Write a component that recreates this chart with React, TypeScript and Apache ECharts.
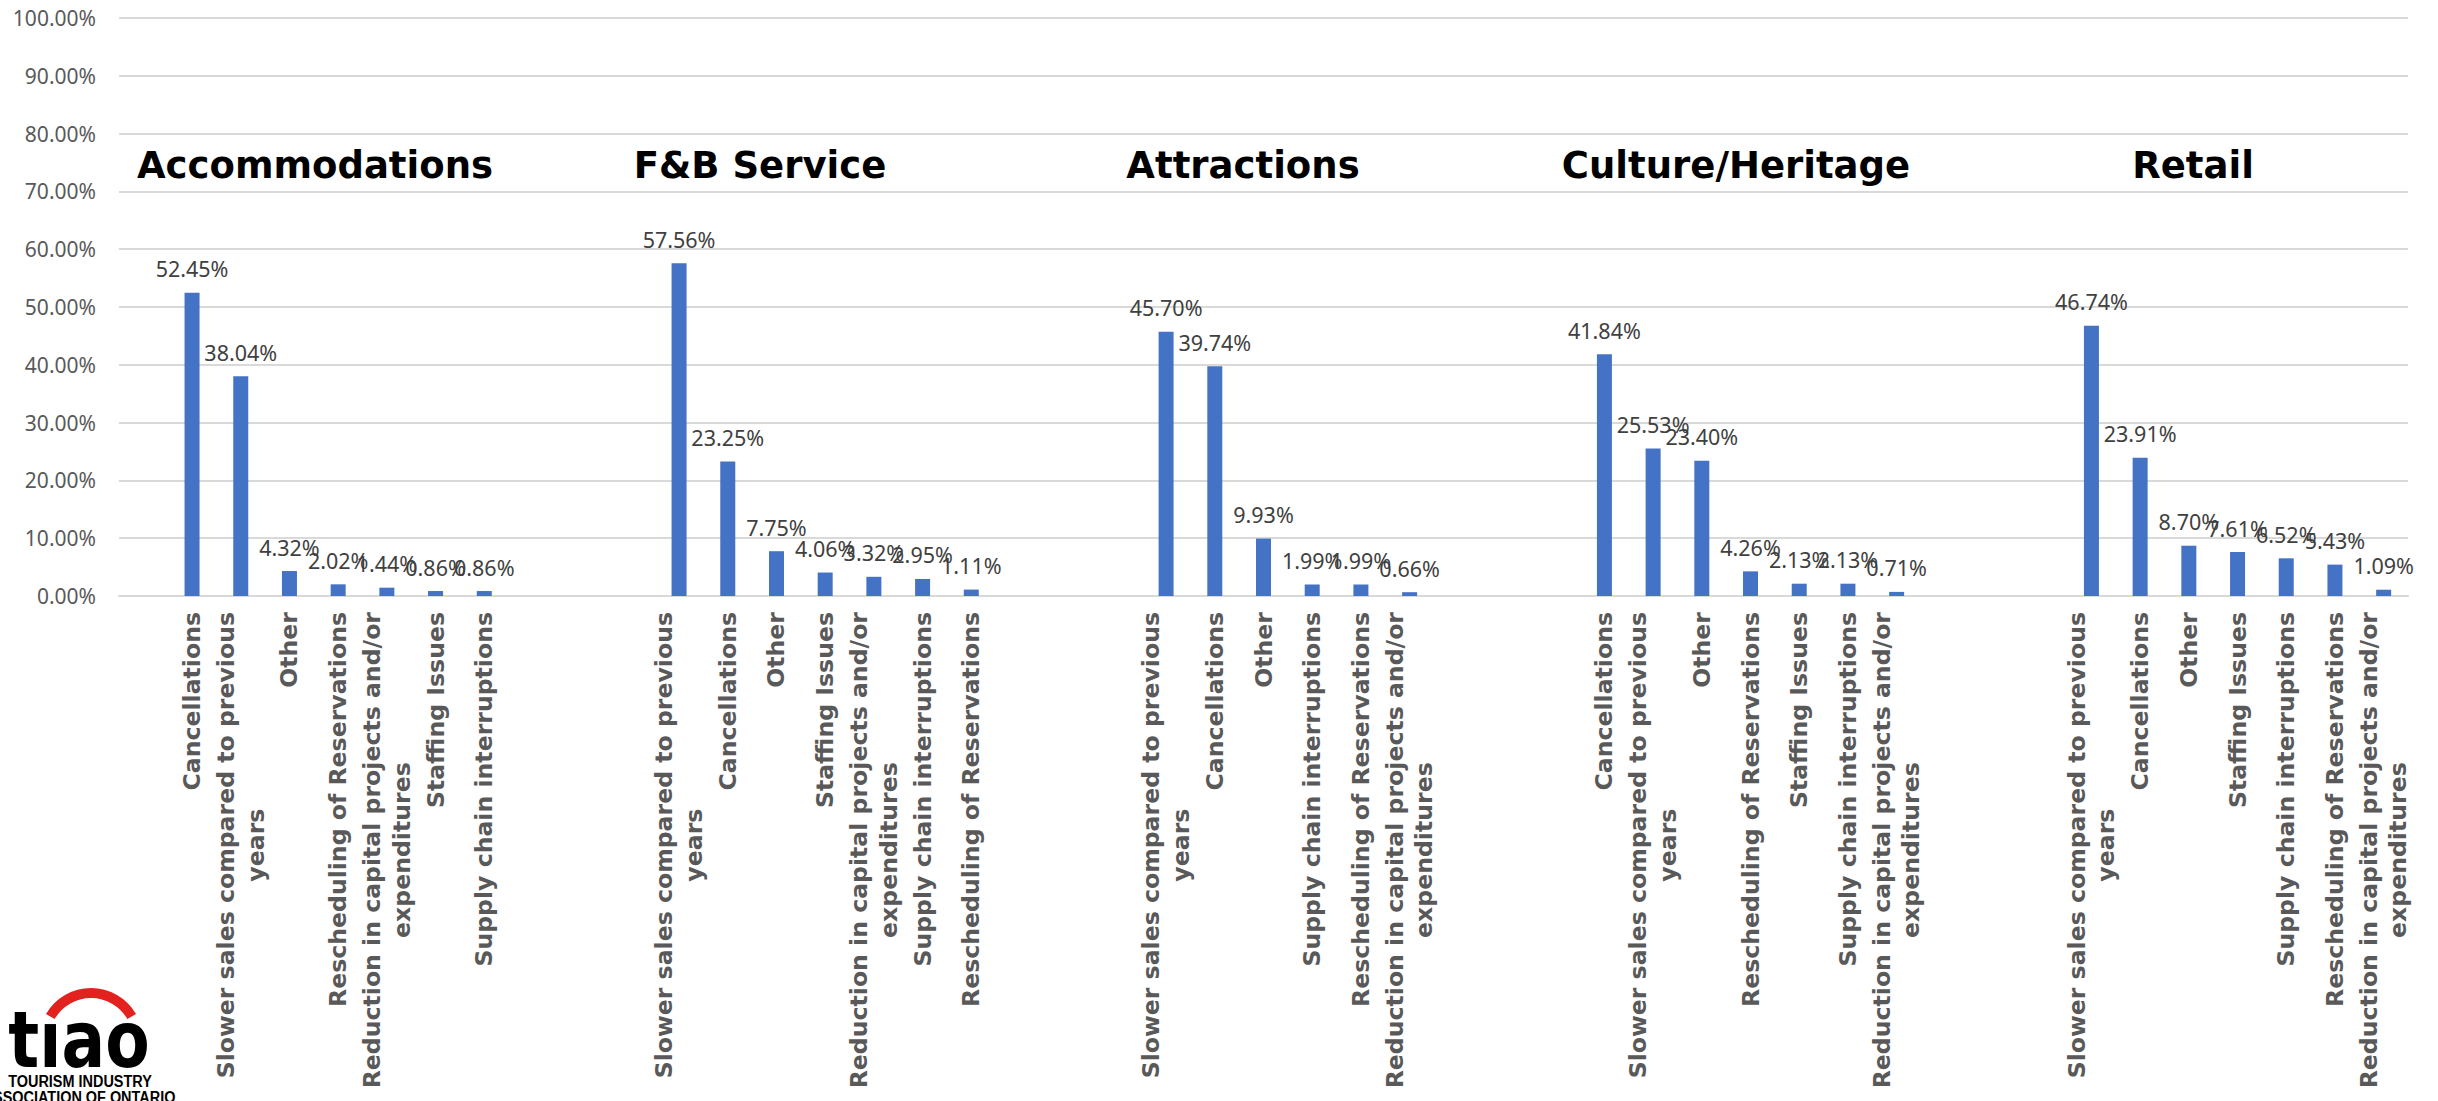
import React, { useEffect, useRef } from 'react';
import * as echarts from 'echarts';

// ---- Data ----
const groupTitles = ['Accommodations', 'F&B Service', 'Attractions', 'Culture/Heritage', 'Retail'];

const accCategories = [
  'Cancellations',
  'Slower sales compared to previous\nyears',
  'Other',
  'Rescheduling of Reservations',
  'Reduction in capital projects and/or\nexpenditures',
  'Staffing Issues',
  'Supply chain interruptions',
];
const accValues = [52.45, 38.04, 4.32, 2.02, 1.44, 0.86, 0.86];

const fbCategories = [
  'Slower sales compared to previous\nyears',
  'Cancellations',
  'Other',
  'Staffing Issues',
  'Reduction in capital projects and/or\nexpenditures',
  'Supply chain interruptions',
  'Rescheduling of Reservations',
];
const fbValues = [57.56, 23.25, 7.75, 4.06, 3.32, 2.95, 1.11];

const attrCategories = [
  'Slower sales compared to previous\nyears',
  'Cancellations',
  'Other',
  'Supply chain interruptions',
  'Rescheduling of Reservations',
  'Reduction in capital projects and/or\nexpenditures',
];
const attrValues = [45.7, 39.74, 9.93, 1.99, 1.99, 0.66];

const cultCategories = [
  'Cancellations',
  'Slower sales compared to previous\nyears',
  'Other',
  'Rescheduling of Reservations',
  'Staffing Issues',
  'Supply chain interruptions',
  'Reduction in capital projects and/or\nexpenditures',
];
const cultValues = [41.84, 25.53, 23.4, 4.26, 2.13, 2.13, 0.71];

const retailCategories = [
  'Slower sales compared to previous\nyears',
  'Cancellations',
  'Other',
  'Staffing Issues',
  'Supply chain interruptions',
  'Rescheduling of Reservations',
  'Reduction in capital projects and/or\nexpenditures',
];
const retailValues = [46.74, 23.91, 8.7, 7.61, 6.52, 5.43, 1.09];

const groupCats = [accCategories, fbCategories, attrCategories, cultCategories, retailCategories];
const groupVals = [accValues, fbValues, attrValues, cultValues, retailValues];

const yMin = 0;
const yMax = 100;
const yStep = 10;

// layout of group titles (pixel centers)
const titleX = [315, 760, 1243, 1736, 2193];
const titleY = 165;

// ---- Build axis data ----
const categories: string[] = [''];
const values: (number | string)[] = ['-'];
groupCats.forEach((cats, gi) => {
  if (gi > 0) {
    for (let k = 0; k < 3; k++) {
      categories.push('');
      values.push('-');
    }
  }
  cats.forEach((c, i) => {
    categories.push(c);
    values.push(groupVals[gi][i]);
  });
});

export default function App() {
  const ref = useRef<HTMLDivElement>(null);

  useEffect(() => {
    if (!ref.current) return;
    const chart = echarts.init(ref.current, undefined, { renderer: 'svg' });

    const labelFont = 'DejaVu Sans';
    const numFont = '"Noto Sans", "Open Sans", sans-serif';

    const graphic: any[] = groupTitles.map((t, i) => ({
      type: 'text',
      x: titleX[i],
      y: titleY,
      style: {
        text: t,
        fill: '#000000',
        fontFamily: labelFont,
        fontWeight: 'bold',
        fontSize: 37,
        align: 'center',
        verticalAlign: 'middle',
        textAlign: 'center',
        textVerticalAlign: 'middle',
      },
    }));

    // Logo
    graphic.push(
      {
        type: 'sector',
        shape: {
          cx: 91,
          cy: 1040,
          r: 52,
          r0: 42,
          startAngle: (7 * Math.PI) / 6,
          endAngle: (11 * Math.PI) / 6,
          clockwise: true,
        },
        style: { fill: '#E3211E' },
      },
      {
        type: 'text',
        x: 79,
        y: 1040,
        scaleX: 0.83,
        style: {
          text: 'tıao',
          fill: '#000000',
          fontFamily: 'DejaVu Sans',
          fontWeight: 'bold',
          fontSize: 78,
          align: 'center',
          verticalAlign: 'middle',
          textAlign: 'center',
          textVerticalAlign: 'middle',
        },
      },
      {
        type: 'text',
        x: 80,
        y: 1081,
        scaleX: 0.85,
        style: {
          text: 'TOURISM INDUSTRY',
          fill: '#000000',
          fontFamily: 'Liberation Sans',
          fontWeight: 'bold',
          fontSize: 17,
          align: 'center',
          verticalAlign: 'middle',
          textAlign: 'center',
          textVerticalAlign: 'middle',
        },
      },
      {
        type: 'text',
        x: 79,
        y: 1097,
        scaleX: 0.85,
        style: {
          text: 'ASSOCIATION OF ONTARIO',
          fill: '#000000',
          fontFamily: 'Liberation Sans',
          fontWeight: 'bold',
          fontSize: 17,
          align: 'center',
          verticalAlign: 'middle',
          textAlign: 'center',
          textVerticalAlign: 'middle',
        },
      }
    );

    const option: any = {
      animation: false,
      backgroundColor: '#ffffff',
      grid: {
        left: 119,
        right: 30,
        top: 18,
        bottom: 505,
        containLabel: false,
        outerBoundsMode: 'none',
      },
      xAxis: {
        type: 'category',
        data: categories,
        axisLine: { show: true, lineStyle: { color: '#d9d9d9', width: 2 } },
        axisTick: { show: false },
        axisLabel: {
          interval: 0,
          rotate: 90,
          margin: 16,
          color: '#595959',
          fontFamily: labelFont,
          fontWeight: 'bold',
          fontSize: 23.6,
          lineHeight: 29.5,
          formatter: (v: string) =>
            v ? v.split('\n').map((l) => `{c|${l}}`).join('\n') : '',
          rich: {
            c: {
              align: 'center',
              color: '#595959',
              fontFamily: labelFont,
              fontWeight: 'bold',
              fontSize: 23.6,
              lineHeight: 29.5,
            },
          },
        },
      },
      yAxis: {
        type: 'value',
        min: yMin,
        max: yMax,
        interval: yStep,
        axisLine: { show: false },
        axisTick: { show: false },
        axisLabel: {
          margin: 23,
          color: '#595959',
          fontFamily: numFont,
          fontSize: 21,
          formatter: (v: number) => `${v.toFixed(2)}%`,
        },
        splitLine: { lineStyle: { color: '#d9d9d9', width: 2 } },
      },
      series: [
        {
          type: 'bar',
          data: values,
          barWidth: 15,
          itemStyle: { color: '#4472C4' },
          label: {
            show: true,
            position: 'top',
            distance: 13,
            color: '#404040',
            fontFamily: numFont,
            fontSize: 21.5,
            formatter: (p: any) =>
              typeof p.value === 'number' ? `${p.value.toFixed(2)}%` : '',
          },
        },
      ],
      graphic,
    };

    chart.setOption(option);
    return () => chart.dispose();
  }, []);

  return (
    <div
      ref={ref}
      style={{ position: 'absolute', left: 0, top: 0, width: 2438, height: 1101, background: '#fff' }}
    />
  );
}
